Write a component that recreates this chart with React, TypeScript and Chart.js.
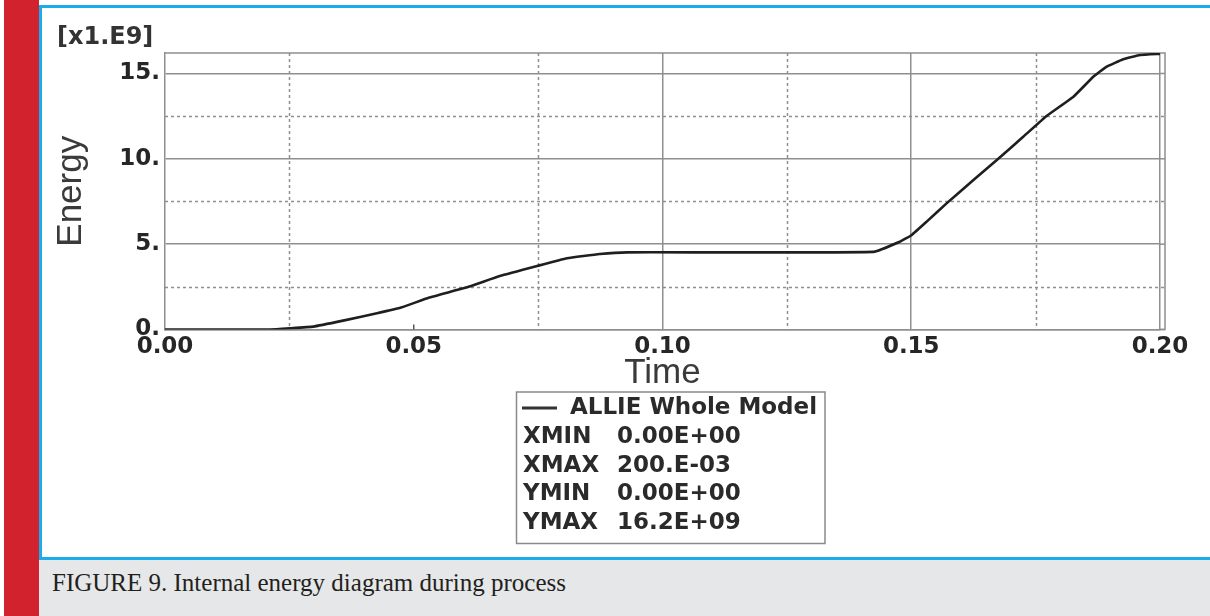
import React, { useEffect, useRef } from "react";
import { Chart, registerables } from "chart.js";

Chart.register(...registerables);

// ---- data (energy in units of 1e9) ----
const timeValues = [
  0, 0.0211, 0.0251, 0.0298, 0.0358, 0.0426, 0.0476, 0.0530, 0.0607, 0.0673,
  0.0748, 0.0808, 0.0874, 0.0929, 0.1424, 0.1477, 0.1501, 0.1531, 0.1571,
  0.1625, 0.1672, 0.1725, 0.1772, 0.1826, 0.1866, 0.1893, 0.1926, 0.1960, 0.2,
];
const energyValues = [
  0, 0, 0.07, 0.17, 0.52, 0.95, 1.3, 1.86, 2.47, 3.13,
  3.72, 4.17, 4.42, 4.52, 4.55, 5.14, 5.54, 6.32, 7.39,
  8.76, 9.93, 11.29, 12.51, 13.64, 14.81, 15.4, 15.83, 16.08, 16.15,
];

const xTickValues = [0, 0.05, 0.1, 0.15, 0.2];
const xTickLabels = ["0.00", "0.05", "0.10", "0.15", "0.20"];
const xSolidGridValues = [0.1, 0.15, 0.2];
const xDottedGridValues = [0.025, 0.075, 0.125, 0.175];
const xInnerTickValues = [0.05];
const yTickValues = [0, 5, 10, 15];
const yTickLabels = ["0.", "5.", "10.", "15."];
const yDottedGridValues = [2.5, 7.5, 12.5];

const xTitle = "Time";
const yTitle = "Energy";
const yUnitLabel = "[x1.E9]";
const seriesName = "ALLIE Whole Model";
const statNames = ["XMIN", "XMAX", "YMIN", "YMAX"];
const statValues = ["0.00E+00", "200.E-03", "0.00E+00", "16.2E+09"];
const captionText = "FIGURE 9. Internal energy diagram during process";

const X_MIN = 0;
const X_MAX = 0.2;
const Y_MIN = 0;
const Y_MAX = 16.2;

// ---- styles ----
const gridColor = "#8f8f8f";
const textColor = "#262626";
const lineColor = "#1f1f1f";
const boldFont = "DejaVu Sans";
const titleFont = "'Liberation Sans', Arial, sans-serif";

const overlayPlugin = {
  id: "overlay",
  beforeDatasetsDraw(chart: any) {
    const { ctx, chartArea, scales } = chart;
    const { left, right, top, bottom } = chartArea;
    ctx.save();
    ctx.strokeStyle = gridColor;
    ctx.lineWidth = 1.5;
    ctx.setLineDash([3, 3]);
    xDottedGridValues.forEach((v) => {
      const x = Math.round(scales.x.getPixelForValue(v)) + 0.5;
      ctx.beginPath();
      ctx.moveTo(x, top);
      ctx.lineTo(x, bottom);
      ctx.stroke();
    });
    yDottedGridValues.forEach((v) => {
      const y = Math.round(scales.y.getPixelForValue(v)) + 0.5;
      ctx.beginPath();
      ctx.moveTo(left, y);
      ctx.lineTo(right + 5, y);
      ctx.stroke();
    });
    ctx.setLineDash([]);
    // frame: top edge, outer right edge, extended bottom
    ctx.beginPath();
    ctx.moveTo(left, top);
    ctx.lineTo(right + 5, top);
    ctx.lineTo(right + 5, bottom);
    ctx.lineTo(right, bottom);
    ctx.stroke();
    yTickValues.forEach((v) => {
      const y = scales.y.getPixelForValue(v);
      ctx.beginPath();
      ctx.moveTo(right, y);
      ctx.lineTo(right + 5, y);
      ctx.stroke();
    });
    // inner tick marks
    ctx.strokeStyle = "#555";
    xInnerTickValues.forEach((v) => {
      const x = scales.x.getPixelForValue(v);
      ctx.beginPath();
      ctx.moveTo(x, bottom);
      ctx.lineTo(x, bottom - 5);
      ctx.stroke();
    });
    ctx.restore();
  },
  afterDraw(chart: any) {
    const { ctx } = chart;
    ctx.save();
    ctx.fillStyle = "#333";
    ctx.textBaseline = "middle";
    ctx.textAlign = "left";
    ctx.font = `bold 24px ${boldFont}`;
    ctx.fillText(yUnitLabel, 57, 38);

    // legend box
    const bx = 516.5;
    const by = 392;
    const bw = 308.5;
    const bh = 151.5;
    ctx.strokeStyle = "#8a8a8a";
    ctx.lineWidth = 1.5;
    ctx.strokeRect(bx, by, bw, bh);
    const rowH = 28.8;
    const firstY = 408;
    ctx.strokeStyle = "#333";
    ctx.lineWidth = 3;
    ctx.beginPath();
    ctx.moveTo(522, firstY);
    ctx.lineTo(557, firstY);
    ctx.stroke();
    ctx.font = `bold 23px ${boldFont}`;
    ctx.fillStyle = "#2a2a2a";
    ctx.fillText(seriesName, 570, firstY);
    statNames.forEach((name, i) => {
      const y = firstY + rowH * (i + 1);
      ctx.fillText(name, 523, y);
      ctx.fillText(statValues[i], 617, y);
    });
    ctx.restore();
  },
};

export default function App() {
  const canvasRef = useRef<HTMLCanvasElement>(null);

  useEffect(() => {
    const canvas = canvasRef.current;
    if (!canvas) return;
    const points = timeValues.map((t, i) => ({ x: t, y: energyValues[i] }));
    const chart = new Chart(canvas, {
      type: "line",
      data: {
        datasets: [
          {
            label: seriesName,
            data: points,
            borderColor: lineColor,
            borderWidth: 2.6,
            pointRadius: 0,
            tension: 0.1,
            fill: false,
          },
        ],
      },
      options: {
        responsive: false,
        animation: false,
        devicePixelRatio: 1,
        layout: { padding: { left: 0, right: 50, top: 53, bottom: 221.5 } },
        plugins: { legend: { display: false }, tooltip: { enabled: false } },
        scales: {
          x: {
            type: "linear",
            min: X_MIN,
            max: X_MAX,
            afterBuildTicks: (scale: any) => {
              scale.ticks = xTickValues.map((v) => ({ value: v }));
            },
            afterFit: (scale: any) => {
              scale.height = 65;
            },
            ticks: {
              autoSkip: false,
              maxRotation: 0,
              padding: 3.5,
              color: textColor,
              font: { family: boldFont, size: 23, weight: "bold" },
              callback: (_v: any, i: number) => xTickLabels[i],
            },
            grid: {
              drawTicks: false,
              lineWidth: 1.5,
              color: (c: any) =>
                c.tick && xSolidGridValues.includes(c.tick.value) ? gridColor : "rgba(0,0,0,0)",
            },
            border: { display: true, color: gridColor, width: 1.5 },
            title: {
              display: true,
              text: xTitle,
              color: "#3a3a3a",
              font: { family: titleFont, size: 35, weight: "normal" },
              padding: { top: 0, bottom: 0 },
            },
          },
          y: {
            type: "linear",
            min: Y_MIN,
            max: Y_MAX,
            afterBuildTicks: (scale: any) => {
              scale.ticks = yTickValues.map((v) => ({ value: v }));
            },
            afterFit: (scale: any) => {
              scale.width = 165;
            },
            ticks: {
              autoSkip: false,
              padding: 5,
              color: textColor,
              font: { family: boldFont, size: 23, weight: "bold" },
              callback: (_v: any, i: number) => yTickLabels[i],
            },
            grid: { drawTicks: false, lineWidth: 1.5, color: gridColor },
            border: { display: true, color: gridColor, width: 1.5 },
            title: {
              display: true,
              text: yTitle,
              color: "#3a3a3a",
              font: { family: titleFont, size: 35, weight: "normal" },
              padding: { top: 50, bottom: 0 },
            },
          },
        },
      },
      plugins: [overlayPlugin],
    });
    return () => chart.destroy();
  }, []);

  const blue = "#1badea";
  return (
    <div
      style={{
        position: "absolute",
        left: 0,
        top: 0,
        width: 1210,
        height: 616,
        background: "#ffffff",
        overflow: "hidden",
      }}
    >
      <div style={{ position: "absolute", left: 4, top: 0, width: 35, height: 616, background: "#d2222d" }} />
      <div style={{ position: "absolute", left: 39, top: 5, width: 3, height: 555, background: blue }} />
      <div style={{ position: "absolute", left: 39, top: 5, width: 1171, height: 2.5, background: blue }} />
      <div style={{ position: "absolute", left: 39, top: 557, width: 1171, height: 3, background: blue }} />
      <div style={{ position: "absolute", left: 39, top: 560, width: 1171, height: 56, background: "#e6e7e8" }} />
      <div
        style={{
          position: "absolute",
          left: 52,
          top: 570,
          fontFamily: "'Liberation Serif', 'Times New Roman', serif",
          fontSize: 25,
          lineHeight: "25px",
          color: "#231f20",
          whiteSpace: "nowrap",
        }}
      >
        {captionText}
      </div>
      <canvas
        ref={canvasRef}
        width={1210}
        height={616}
        style={{ position: "absolute", left: 0, top: 0, width: 1210, height: 616 }}
      />
    </div>
  );
}
